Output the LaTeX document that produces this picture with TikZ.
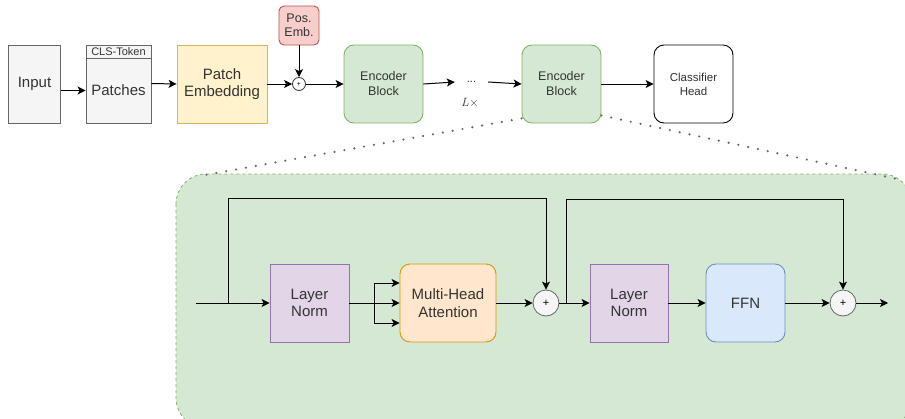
\documentclass[tikz,border=0pt]{standalone}
\usepackage{fontspec}
\setmainfont{Liberation Sans}
\usetikzlibrary{arrows.meta,calc}

\definecolor{grayfill}{HTML}{F5F5F5}
\definecolor{graydraw}{HTML}{666666}
\definecolor{graytext}{HTML}{333333}
\definecolor{yellowfill}{HTML}{FFF2CC}
\definecolor{yellowdraw}{HTML}{D6B656}
\definecolor{redfill}{HTML}{F8CECC}
\definecolor{reddraw}{HTML}{B85450}
\definecolor{greenfill}{HTML}{D5E8D4}
\definecolor{greendraw}{HTML}{82B366}
\definecolor{purplefill}{HTML}{E1D5E7}
\definecolor{purpledraw}{HTML}{9673A6}
\definecolor{orangefill}{HTML}{FFE6CC}
\definecolor{orangedraw}{HTML}{D79B00}
\definecolor{bluefill}{HTML}{DAE8FC}
\definecolor{bluedraw}{HTML}{6C8EBF}

\tikzset{
  base/.style={line width=0.9pt, align=center, inner sep=0pt,
    font=\fontsize{15}{17.5}\selectfont},
  graybox/.style={base, draw=graydraw, fill=grayfill, text=graytext},
  yellowbox/.style={base, draw=yellowdraw, fill=yellowfill, text=graytext},
  encbox/.style={base, draw=greendraw, fill=greenfill, rounded corners=10pt,
    minimum width=79pt, minimum height=78pt, text=graytext,
    font=\fontsize{12.5}{15}\selectfont},
  headbox/.style={base, draw=black, fill=white, rounded corners=10pt,
    minimum width=79pt, minimum height=78pt, text=graytext,
    font=\fontsize{11.5}{14}\selectfont},
  posbox/.style={base, draw=reddraw, fill=redfill, rounded corners=5pt,
    minimum width=40pt, minimum height=39pt, text=graytext,
    font=\fontsize{12.5}{14}\selectfont},
  normbox/.style={base, draw=purpledraw, fill=purplefill,
    minimum height=78pt, text=graytext},
  attnbox/.style={base, draw=orangedraw, fill=orangefill, rounded corners=10pt,
    minimum height=78pt, text=graytext},
  ffnbox/.style={base, draw=bluedraw, fill=bluefill, rounded corners=10pt,
    minimum height=78pt, text=graytext},
  sumsmall/.style={circle, draw=graytext, fill=white, line width=0.8pt,
    minimum size=13pt, inner sep=0pt, font=\fontsize{7}{7}\selectfont},
  sumbig/.style={circle, draw=graydraw, fill=grayfill, line width=0.8pt,
    minimum size=26pt, inner sep=0pt, font=\fontsize{11}{11}\selectfont},
  flow/.style={line width=1pt, -{Stealth[length=8pt,width=8pt,inset=2pt]}},
  wire/.style={line width=1pt},
  zoomline/.style={line width=2.4pt, graydraw, dash pattern=on 0pt off 10pt,
    line cap=round},
  container/.style={draw=greendraw, fill=greenfill, line width=0.8pt,
    dash pattern=on 3pt off 3pt, rounded corners=30pt},
}

\begin{document}
\begin{tikzpicture}[x=1pt,y=-1pt]
\useasboundingbox (0,0) rectangle (905,418);

% expanded view of one encoder block
\path[container] (176,174) rectangle (912,428);

% top row
\node[graybox, minimum width=52pt, minimum height=78pt] (input) at (34.5,84) {Input};
\node[graybox, minimum width=65pt, minimum height=65pt] (patches) at (118.5,90.5) {Patches};
\node[graybox, minimum width=65pt, minimum height=13pt,
      font=\fontsize{11}{11}\selectfont] (cls) at (118.5,51.5) {CLS-Token};
\node[yellowbox, minimum width=90pt, minimum height=78pt] (pe) at (222,84) {Patch\\Embedding};
\node[posbox] (pos) at (299,25.5) {Pos.\\Emb.};
\node[sumsmall] (add0) at (299,84) {+};
\node[encbox] (enc1) at (383.5,84) {Encoder\\Block};
\node[inner sep=0pt, font=\fontsize{11}{11}\selectfont, text=graytext,
      minimum width=33pt] (dots) at (471.5,82) {...};
\node[font=\fontsize{13}{13}\selectfont, text=graytext] (rep) at (470,103) {$L\times$};
\node[encbox] (enc2) at (561.5,84) {Encoder\\Block};
\node[headbox] (head) at (693.5,84) {Classifier\\Head};

\draw[flow] (input.east |- patches) -- (patches.west);
\draw[flow] ($(patches.east)+(0,-7)$) -- (pe.west |- add0);
\draw[flow] (pe.east |- add0) -- (add0.west);
\draw[flow] (pos.south) -- (add0.north);
\draw[flow] (add0.east) -- (enc1.west);
\draw[flow] (enc1.east) -- (dots.west);
\draw[flow] (dots.east) -- (enc2.west);
\draw[flow] (enc2.east) -- (head.west);

% zoom guides
\coordinate (zl) at (205,175);
\coordinate (zr) at (902,180);
\draw[zoomline] ($(enc2.south west)+(0,-5)$) -- (zl);
\draw[zoomline] ($(enc2.south east)+(0,-8)$) -- (zr);

% inside the encoder block
\coordinate (in) at (196,303);
\coordinate (out) at (888,303);
\node[normbox, minimum width=79pt] (ln1) at (309.5,303) {Layer\\Norm};
\node[attnbox, minimum width=96pt] (mha) at (448,303) {Multi-Head\\Attention};
\node[sumbig] (add1) at (546,303) {+};
\node[normbox, minimum width=78pt] (ln2) at (629,303) {Layer\\Norm};
\node[ffnbox, minimum width=79pt] (ffn) at (745.5,303) {FFN};
\node[sumbig] (add2) at (843,303) {+};

\coordinate (br1) at (228,303);
\coordinate (br2) at (566,303);
\coordinate (split) at (374,303);

\draw[flow] (in) -- (ln1.west);
\draw[flow] (br1) -- (228,198) -| (add1.north);
\draw[wire] (ln1.east) -- (split);
\draw[wire] (374,283) -- (374,323);
\draw[flow] (374,283) -- (mha.west |- 0,283);
\draw[flow] (split) -- (mha.west);
\draw[flow] (374,323) -- (mha.west |- 0,323);
\draw[flow] (mha.east) -- (add1.west);
\draw[flow] (add1.east) -- (ln2.west);
\draw[flow] (br2) -- (566,199) -| (add2.north);
\draw[flow] (ln2.east) -- (ffn.west);
\draw[flow] (ffn.east) -- (add2.west);
\draw[flow] (add2.east) -- (out);
\end{tikzpicture}
\end{document}
